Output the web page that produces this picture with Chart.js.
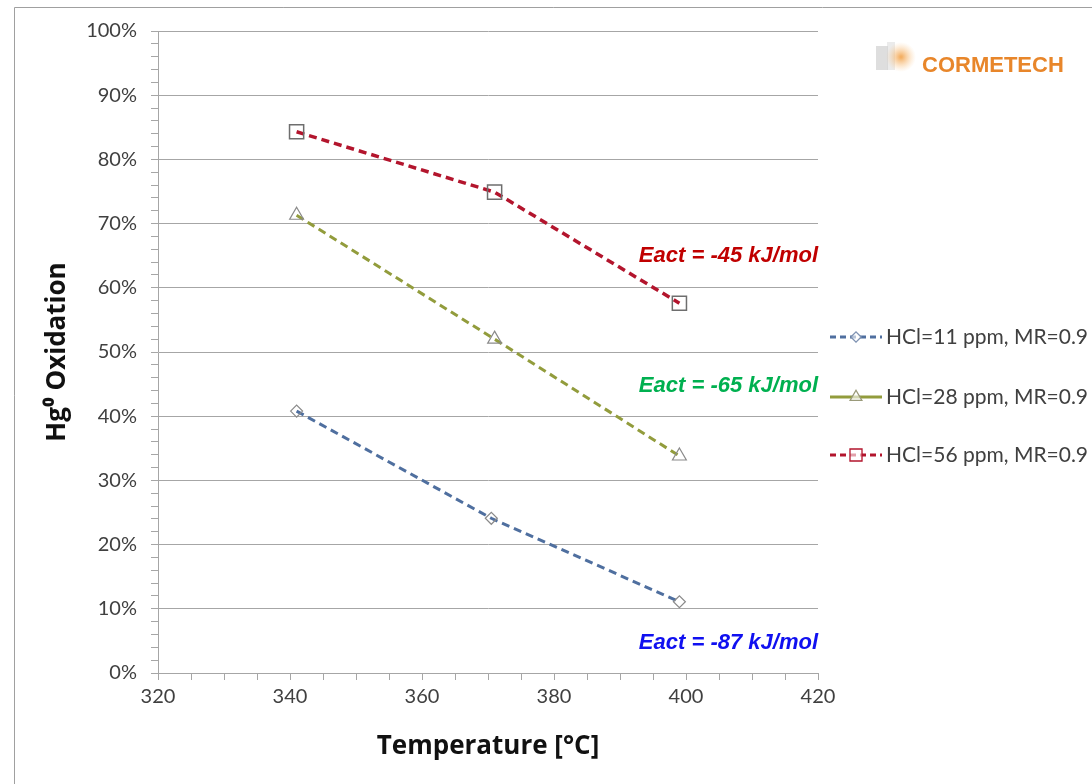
<!DOCTYPE html>
<html>
<head>
<meta charset="utf-8">
<script src="https://cdn.jsdelivr.net/npm/chart.js@4/dist/chart.umd.min.js"></script>
<style>
  html, body { margin: 0; padding: 0; background: #fff; }
  #wrap { width: 1092px; height: 784px; position: relative; }
</style>
</head>
<body>
<div id="wrap"><canvas id="hgChart"></canvas></div>
<script>
// values (temperature in C, oxidation in %)
const tempHcl11 = [341, 370.5, 399];
const tempHcl28 = [341, 371, 399];
const tempHcl56 = [341, 371, 399];
const oxHcl11 = [40.8, 24.1, 11.1];
const oxHcl28 = [71.3, 52.0, 33.8];
const oxHcl56 = [84.3, 74.9, 57.6];
const seriesLabels = ['HCl=11 ppm, MR=0.9', 'HCl=28 ppm, MR=0.9', 'HCl=56 ppm, MR=0.9'];
const eactLabels = ['Eact = -45 kJ/mol', 'Eact = -65 kJ/mol', 'Eact = -87 kJ/mol'];
const eactLevels = [65, 44.7, 4.7];
const eactColors = ['#c00000', '#00b050', '#1010f0'];

const gridGray = '#a6a6a6';
const tickFont = { family: 'Lato, "Liberation Sans", sans-serif', size: 20 };
const titleFont = { family: '"Open Sans", "Liberation Sans", sans-serif', size: 26, weight: 'bold' };

function pts(xs, ys) {
    return xs.map((x, i) => ({ x: x, y: ys[i] }));
}

// page frame + white background
const framePlugin = {
    id: 'frame',
    beforeDraw(chart) {
        const c = chart.ctx;
        c.save();
        c.fillStyle = '#fff';
        c.fillRect(0, 0, chart.width, chart.height);
        c.strokeStyle = '#a0a0a0';
        c.lineWidth = 1;
        c.beginPath();
        c.moveTo(14.5, chart.height);
        c.lineTo(14.5, 7.5);
        c.lineTo(chart.width, 7.5);
        c.stroke();
        c.restore();
    }
};

// Eact labels, right-aligned at the end of the x axis
const eactPlugin = {
    id: 'eact',
    afterDatasetsDraw(chart) {
        const c = chart.ctx;
        const xs = chart.scales.x, ys = chart.scales.y;
        c.save();
        c.font = 'italic bold 22px "Liberation Sans", Arial, sans-serif';
        c.textAlign = 'right';
        c.textBaseline = 'middle';
        eactLabels.forEach((t, i) => {
            c.fillStyle = eactColors[i];
            c.fillText(t, xs.getPixelForValue(420), ys.getPixelForValue(eactLevels[i]));
        });
        c.restore();
    }
};

// legend on the right: line - marker - line, then label
const sideLegend = {
    id: 'sideLegend',
    afterDraw(chart) {
        const c = chart.ctx;
        const rowY = [337, 397, 455];
        c.save();
        chart.data.datasets.forEach((ds, i) => {
            const y = rowY[i];
            c.strokeStyle = ds.borderColor;
            c.lineWidth = 3;
            c.setLineDash(ds.legendDash);
            c.beginPath();
            c.moveTo(830, y);
            c.lineTo(882, y);
            c.stroke();
            c.setLineDash([]);
            c.fillStyle = 'rgba(255,255,255,0.6)';
            c.strokeStyle = ds.legendMarker;
            c.lineWidth = 1.3;
            Chart.helpers.drawPoint(c, {
                pointStyle: ds.pointStyle,
                radius: ds.pointRadius * 0.85,
                borderWidth: 1.3
            }, 856, y);
            c.fillStyle = '#404040';
            c.font = '21px Lato, "Liberation Sans", sans-serif';
            c.textAlign = 'left';
            c.textBaseline = 'middle';
            c.fillText(ds.label, 886, y);
        });
        c.restore();
    }
};

// small company mark, top right
const logoPlugin = {
    id: 'logo',
    afterDraw(chart) {
        const c = chart.ctx;
        c.save();
        c.fillStyle = 'rgba(190,190,190,0.5)';
        c.fillRect(876, 46, 12, 24);
        c.fillStyle = 'rgba(210,210,210,0.45)';
        c.fillRect(887, 42, 8, 28);
        const g = c.createRadialGradient(901, 57, 1, 901, 57, 15);
        g.addColorStop(0, 'rgba(240,150,50,0.75)');
        g.addColorStop(1, 'rgba(250,200,140,0)');
        c.fillStyle = g;
        c.beginPath();
        c.arc(901, 57, 15, 0, Math.PI * 2);
        c.fill();
        c.fillStyle = '#e8862a';
        c.font = 'bold 22px "Liberation Sans", Arial, sans-serif';
        c.textAlign = 'left';
        c.textBaseline = 'middle';
        c.fillText('CORMETECH', 922, 66);
        c.restore();
    }
};

const ctx = document.getElementById('hgChart').getContext('2d');
const hgChart = new Chart(ctx, {
    type: 'line',
    data: {
        datasets: [{
            label: seriesLabels[0],
            data: pts(tempHcl11, oxHcl11),
            borderColor: '#4f6f9f',
            borderWidth: 3,
            borderDash: [8, 5],
            legendDash: [6, 4],
            legendMarker: '#7f93b3',
            pointStyle: 'rectRot',
            pointRadius: 6,
            pointBorderColor: '#8a8a8a',
            pointBackgroundColor: 'rgba(255,255,255,0)',
            pointBorderWidth: 1.2
        }, {
            label: seriesLabels[1],
            data: pts(tempHcl28, oxHcl28),
            borderColor: '#929c3c',
            borderWidth: 3,
            borderDash: [8, 5],
            legendDash: [],
            legendMarker: '#9a9a7a',
            pointStyle: 'triangle',
            pointRadius: 8,
            pointBorderColor: '#8a8a8a',
            pointBackgroundColor: 'rgba(255,255,255,0)',
            pointBorderWidth: 1.2
        }, {
            label: seriesLabels[2],
            data: pts(tempHcl56, oxHcl56),
            borderColor: '#b3152d',
            borderWidth: 3.5,
            borderDash: [8, 5],
            legendDash: [6, 4],
            legendMarker: '#b3152d',
            pointStyle: 'rect',
            pointRadius: 10,
            pointBorderColor: '#6e6e6e',
            pointBackgroundColor: 'rgba(255,255,255,0)',
            pointBorderWidth: 1.5
        }]
    },
    options: {
        responsive: true,
        maintainAspectRatio: false,
        animation: false,
        layout: { padding: { top: 31, right: 274, bottom: 0, left: 0 } },
        plugins: {
            legend: { display: false },
            tooltip: { enabled: false }
        },
        scales: {
            x: {
                type: 'linear',
                min: 320,
                max: 420,
                afterFit(scale) { scale.height = 111; },
                border: { color: gridGray, width: 1 },
                grid: { drawOnChartArea: false, tickColor: gridGray, tickLength: 7 },
                ticks: {
                    stepSize: 5,
                    autoSkip: false,
                    maxRotation: 0,
                    padding: 5,
                    color: '#404040',
                    font: tickFont,
                    callback: v => (Math.round(v) % 20 === 0 ? String(Math.round(v)) : '')
                },
                title: {
                    display: true,
                    text: 'Temperature [°C]',
                    color: '#111',
                    font: titleFont,
                    padding: { top: 0, bottom: 22 }
                }
            },
            y: {
                min: 0,
                max: 100,
                afterFit(scale) { scale.width = 158; },
                border: { color: gridGray, width: 1 },
                grid: {
                    color: c => (Math.round(c.tick.value) % 10 === 0 ? gridGray : 'rgba(0,0,0,0)'),
                    tickColor: gridGray,
                    tickLength: 7
                },
                ticks: {
                    stepSize: 2,
                    autoSkip: false,
                    padding: 14,
                    color: '#404040',
                    font: tickFont,
                    callback: v => (Math.round(v) % 10 === 0 ? Math.round(v) + '%' : '')
                },
                title: {
                    display: true,
                    text: 'Hg⁰ Oxidation',
                    color: '#111',
                    font: titleFont,
                    padding: { top: 42, bottom: 0 }
                }
            }
        }
    },
    plugins: [framePlugin, eactPlugin, sideLegend, logoPlugin]
});
</script>
</body>
</html>
